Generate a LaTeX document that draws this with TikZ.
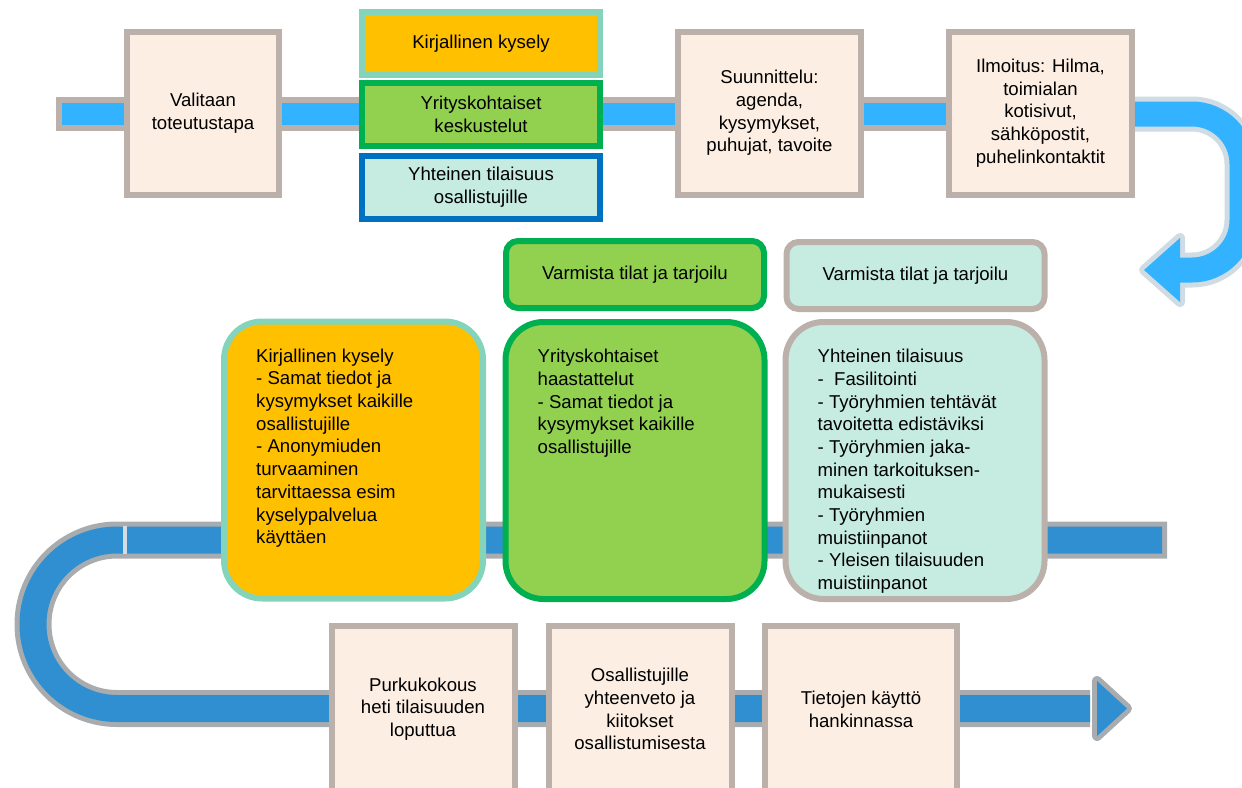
\documentclass[tikz,border=0pt]{standalone}
\usepackage{fontspec}
\setmainfont{Liberation Sans}
\usetikzlibrary{positioning}

\definecolor{peach}{HTML}{FDEEE3}
\definecolor{stonegray}{HTML}{BBB1AA}
\definecolor{amber}{HTML}{FFC000}
\definecolor{mintrim}{HTML}{84D4BB}
\definecolor{lime}{HTML}{92D050}
\definecolor{leafgreen}{HTML}{00B050}
\definecolor{deepblue}{HTML}{0070C0}
\definecolor{mint}{HTML}{C6EBE0}
\definecolor{skyband}{HTML}{33B3FF}
\definecolor{uturnrim}{HTML}{CFDCE3}
\definecolor{seaband}{HTML}{2F8FD0}
\definecolor{lowrim}{HTML}{A9ACAF}
\definecolor{tickgray}{HTML}{D3DCE4}

\newcommand{\boxfont}{\fontsize{18.6pt}{22.7pt}\selectfont}

\begin{document}
\begin{tikzpicture}[x=1pt, y=-1pt]

    \tikzset{%
    every box/.style={
        draw,
        line width=6pt,
        inner sep=0pt,
        align=center,
        font=\boxfont
        },
    stage/.style={
        every box,
        fill=peach,
        draw=stonegray,
        minimum width=183pt,
        minimum height=163pt
        },
    choice/.style={
        every box,
        minimum width=238pt,
        minimum height=63pt
        },
    notice/.style={
        every box,
        rounded corners=12pt,
        minimum width=258pt,
        minimum height=67pt
        },
    detail/.style={
        every box,
        rounded corners=38pt,
        minimum width=259pt,
        minimum height=277pt
        },
    listtext/.style={
        inner sep=0pt,
        align=left,
        font=\boxfont
        },
    }

    \useasboundingbox (0,0) rectangle (1242,787);
    \clip (0,0) rectangle (1242,787);

    % Upper band
    \coordinate (top-start) at (56,113.5);
    \coordinate (top-inner) at (62,113.5);
    \coordinate (top-end) at (1140,113.5);
    \draw [stonegray, line width=34pt] (top-start) -- (top-end);
    \draw [skyband, line width=22pt] (top-inner) -- (top-end);

    % U-turn on the right, pointing back to the left
    \coordinate (ut-start) at (1130,114);
    \coordinate (ut-ne) at (1242,114);
    \coordinate (ut-se) at (1242,270);
    \coordinate (ut-end) at (1172,270);
    \coordinate (ut-tip) at (1144,270);
    \draw [uturnrim, line width=35pt, rounded corners=50pt] (ut-start) -- (ut-ne) -- (ut-se) -- (ut-end);
    \filldraw [uturnrim, line width=10pt, line join=round] (1180,238) -- (ut-tip) -- (1180,302) -- cycle;
    \draw [skyband, line width=25pt, rounded corners=50pt] (ut-start) -- (ut-ne) -- (ut-se) -- (ut-end);
    \fill [skyband] (1180,238) -- (ut-tip) -- (1180,302) -- cycle;

    % Lower band with the U-turn on the left and the final arrow
    \coordinate (mid-start) at (1167,540);
    \coordinate (low-nw) at (33,540);
    \coordinate (low-sw) at (33,708.5);
    \coordinate (low-end) at (1090,708.5);
    \coordinate (low-tip) at (1127,708.5);
    \draw [lowrim, line width=37pt, rounded corners=84pt] (mid-start) -- (low-nw) -- (low-sw) -- (low-end);
    \filldraw [lowrim, line width=10pt, line join=round] (1097,681) -- (low-tip) -- (1097,736) -- cycle;
    \draw [seaband, line width=27pt, rounded corners=84pt, shorten <=5pt] (mid-start) -- (low-nw) -- (low-sw) -- (low-end);
    \fill [seaband] (1097,681) -- (low-tip) -- (1097,736) -- cycle;
    \coordinate (tick-a) at (125,526);
    \coordinate (tick-b) at (125,554);
    \draw [tickgray, line width=4pt] (tick-a) -- (tick-b);

    % Top row stages
    \node [stage, minimum width=152pt] (valitaan) at (203,113.5) {Valitaan\\toteutustapa};
    \node [stage] (suunnittelu) at (769.5,113) {Suunnittelu:\\agenda,\\kysymykset,\\puhujat, tavoite};
    \node [stage] (ilmoitus) at (1040.5,113) {Ilmoitus: Hilma,\\toimialan\\kotisivut,\\sähköpostit,\\puhelinkontaktit};

    % Ways of carrying it out
    \node [choice, fill=amber, draw=mintrim] (kysely) at (481,43.5) {Kirjallinen kysely};
    \node [choice, fill=lime, draw=leafgreen] (keskustelut) at (481,114.5) {Yrityskohtaiset\\keskustelut};
    \node [choice, fill=mint, draw=deepblue] (tilaisuus) at (481,187) {Yhteinen tilaisuus\\osallistujille};

    % Venue and catering
    \node [notice, fill=lime, draw=leafgreen] (varmista-a) at (635,274.5) {Varmista tilat ja tarjoilu};
    \node [notice, fill=mint, draw=stonegray] (varmista-b) at (915.5,275.5) {Varmista tilat ja tarjoilu};

    % Detail boxes
    \node [detail, fill=amber, draw=mintrim] (kysely-box) at (353.5,460) {};
    \node [detail, fill=lime, draw=leafgreen] (haastattelu-box) at (635,460.5) {};
    \node [detail, fill=mint, draw=stonegray] (tilaisuus-box) at (915,460.5) {};

    \node [listtext, below right=30pt and 35pt of kysely-box.north west] (kysely-txt)
    {Kirjallinen kysely\\- Samat tiedot ja\\kysymykset kaikille\\osallistujille\\- Anonymiuden\\turvaaminen\\tarvittaessa esim\\kyselypalvelua\\käyttäen};
    \node [listtext, below right=30pt and 35pt of haastattelu-box.north west] (haastattelu-txt)
    {Yrityskohtaiset\\haastattelut\\- Samat tiedot ja\\kysymykset kaikille\\osallistujille};
    \node [listtext, below right=30pt and 35pt of tilaisuus-box.north west] (tilaisuus-txt)
    {Yhteinen tilaisuus\\-\ \ Fasilitointi\\- Työryhmien tehtävät\\tavoitetta edistäviksi\\- Työryhmien jaka-\\minen tarkoituksen-\\mukaisesti\\- Työryhmien\\muistiinpanot\\- Yleisen tilaisuuden\\muistiinpanot};

    % Bottom row stages
    \foreach \n/\x/\w/\txt in {purku/423/183/{Purkukokous\\heti tilaisuuden\\loputtua},
        yhteenveto/640/183/{Osallistujille\\yhteenveto ja\\kiitokset\\osallistumisesta},
        kaytto/861/192/{Tietojen käyttö\\hankinnassa}}
    \node [stage, minimum width=\w pt, minimum height=166pt] (\n) at (\x,709) {\txt};

\end{tikzpicture}
\end{document}
